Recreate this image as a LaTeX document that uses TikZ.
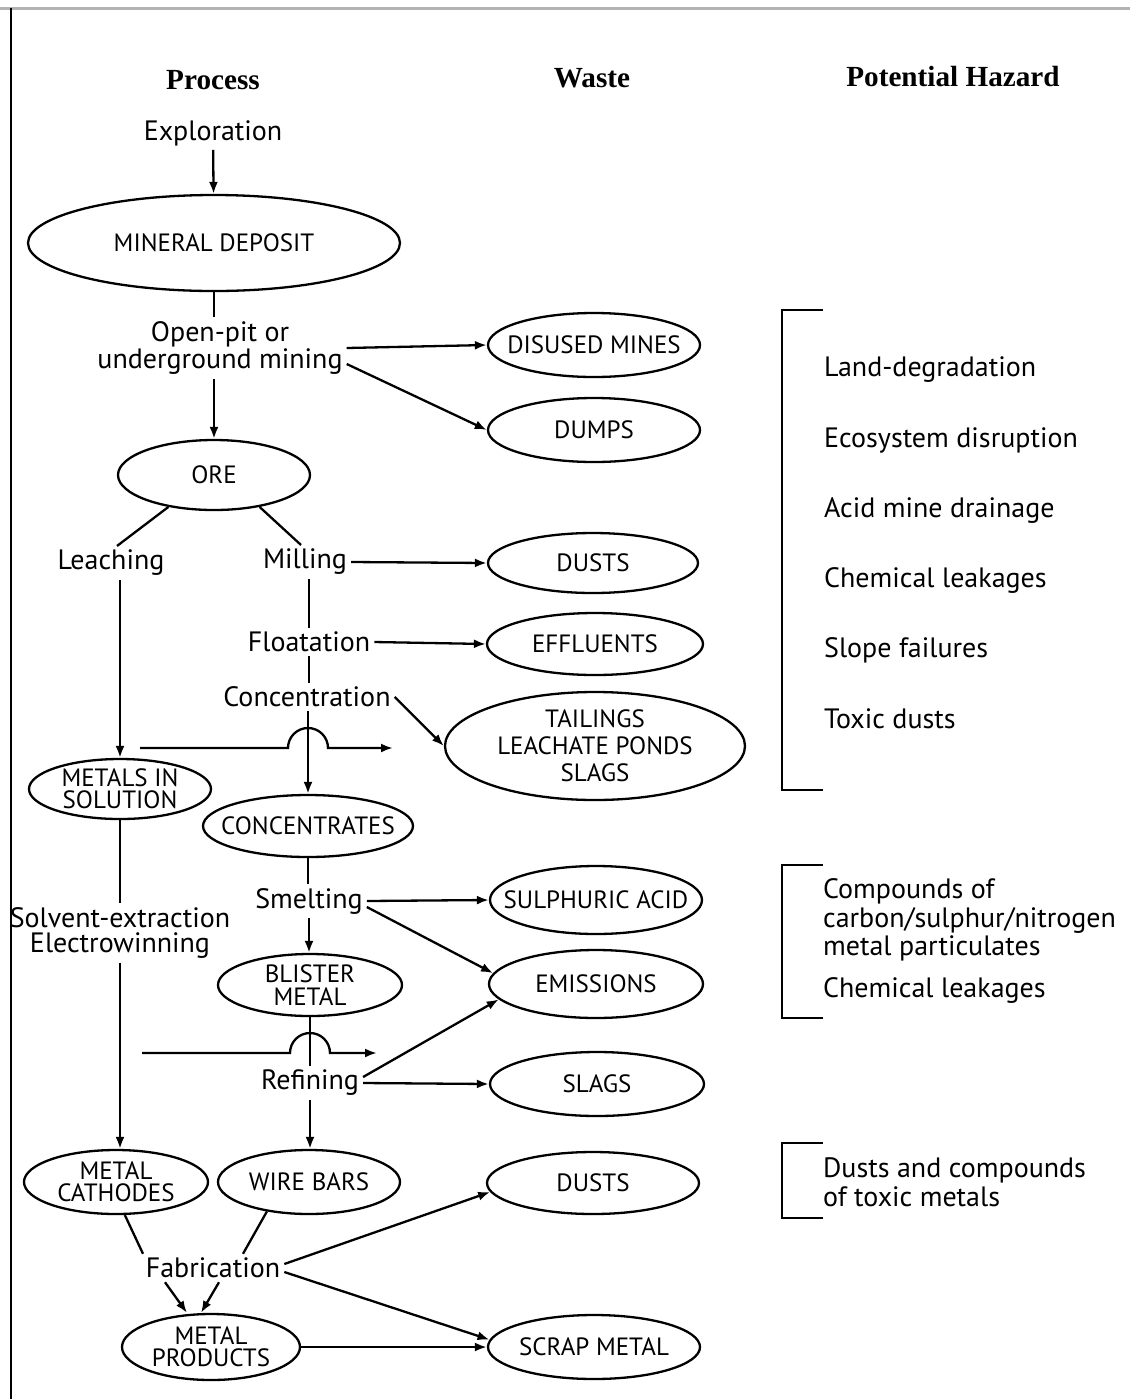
\documentclass[tikz,border=0pt]{standalone}
\usepackage{fontspec}
\setmainfont{PT Sans}
\newfontfamily\headfont{Liberation Serif}
\usetikzlibrary{arrows.meta,shapes.geometric}

\begin{document}
\begin{tikzpicture}[x=0.5pt, y=-0.5pt, line width=1.15pt,
    >={Latex[length=6pt,width=4.5pt]},
    head/.style={font=\headfont\bfseries\fontsize{14.6}{14}\selectfont},
    proc/.style={align=center, inner sep=1.5pt, font=\fontsize{14}{12.5}\selectfont},
    oval/.style={draw, ellipse, inner sep=0pt},
    ovtext/.style={align=center, inner sep=0pt, font=\fontsize{12.5}{11.2}\selectfont},
    hz/.style={anchor=west, align=left, inner sep=0pt, font=\fontsize{14}{14.3}\selectfont}]

\useasboundingbox (0,0) rectangle (1130,1399);
\draw[gray!60, line width=1.5pt] (0,8) -- (1130,8);
\draw[line width=1pt] (11,8) -- (11,1399);

\node[head] (hproc)  at (213,80) {Process};
\node[head] (hwaste) at (592,78) {Waste};
\node[head] (hhaz)   at (953,77) {Potential Hazard};

% process column
\node[proc] (expl) at (213,133) {Exploration};
\node[oval, minimum width=186pt, minimum height=48pt,
      label={[ovtext]center:MINERAL DEPOSIT}] (deposit) at (214,243) {};
\node[proc] (mining) at (220,348) {Open-pit or\\underground mining};
\node[oval, minimum width=96pt, minimum height=35pt,
      label={[ovtext]center:ORE}] (ore) at (214,475) {};
\node[proc] (leach) at (111,563) {Leaching};
\node[proc] (mill)  at (305,562) {Milling};
\node[proc] (float) at (309,642) {Floatation};
\node[proc] (conc)  at (307,697) {Concentration};
\node[oval, minimum width=91pt, minimum height=30pt,
      label={[ovtext]center:METALS IN\\SOLUTION}] (msol) at (120,789) {};
\node[oval, minimum width=105pt, minimum height=31pt,
      label={[ovtext]center:CONCENTRATES}] (concs) at (308,826) {};
\node[proc] (smelt) at (309,901) {Smelting};
\node[proc] (solv)  at (120,933) {Solvent-extraction\\Electrowinning};
\node[oval, minimum width=92pt, minimum height=31pt,
      label={[ovtext]center:BLISTER\\METAL}] (blister) at (310,985) {};
\node[proc] (refin) at (310,1083) {Refining};
\node[oval, minimum width=92pt, minimum height=32pt,
      label={[ovtext]center:METAL\\CATHODES}] (cath) at (116,1182) {};
\node[oval, minimum width=91pt, minimum height=32pt,
      label={[ovtext]center:WIRE BARS}] (wire) at (309,1182) {};
\node[proc] (fab) at (213,1268) {Fabrication};
\node[oval, minimum width=89pt, minimum height=33pt,
      label={[ovtext]center:METAL\\PRODUCTS}] (prod) at (211,1347) {};

% waste column
\node[oval, minimum width=106pt, minimum height=32pt,
      label={[ovtext]center:DISUSED MINES}] (disused) at (594,345) {};
\node[oval, minimum width=106pt, minimum height=32pt,
      label={[ovtext]center:DUMPS}] (dumps) at (594,430) {};
\node[oval, minimum width=105pt, minimum height=30pt,
      label={[ovtext]center:DUSTS}] (dust1) at (593,563) {};
\node[oval, minimum width=108pt, minimum height=31pt,
      label={[ovtext]center:EFFLUENTS}] (effl) at (595,644) {};
\node[oval, minimum width=150pt, minimum height=54pt,
      label={[ovtext, font=\fontsize{12.5}{13.5}\selectfont]center:TAILINGS\\LEACHATE PONDS\\SLAGS}] (tail) at (595,746) {};
\node[oval, minimum width=106pt, minimum height=34pt,
      label={[ovtext]center:SULPHURIC ACID}] (sulph) at (596,900) {};
\node[oval, minimum width=107pt, minimum height=34pt,
      label={[ovtext]center:EMISSIONS}] (emis) at (596,984) {};
\node[oval, minimum width=107pt, minimum height=32pt,
      label={[ovtext]center:SLAGS}] (slag) at (597,1084) {};
\node[oval, minimum width=106pt, minimum height=31pt,
      label={[ovtext]center:DUSTS}] (dust2) at (593,1183) {};
\node[oval, minimum width=106pt, minimum height=32pt,
      label={[ovtext]center:SCRAP METAL}] (scrap) at (594,1347) {};

% hazard column
\node[hz] (hz1) at (823,370) {Land-degradation};
\node[hz] (hz2) at (823,440) {Ecosystem disruption};
\node[hz] (hz3) at (823,511) {Acid mine drainage};
\node[hz] (hz4) at (823,580) {Chemical leakages};
\node[hz] (hz5) at (823,650) {Slope failures};
\node[hz] (hz6) at (823,719) {Toxic dusts};
\node[hz] (hz7) at (822,920) {Compounds of\\carbon/sulphur/nitrogen\\metal particulates};
\node[hz] (hz8) at (822,990) {Chemical leakages};
\node[hz] (hz9) at (822,1182) {Dusts and compounds\\of toxic metals};

\draw (823,310) -- (782,310) -- (782,790) -- (823,790);
\draw (823,865) -- (782,865) -- (782,1018) -- (823,1018);
\draw (823,1143) -- (782,1143) -- (782,1218) -- (823,1218);

% connectors
\draw[->] (expl) -- (deposit);
\draw (deposit) -- (deposit |- mining.north);
\draw[->] (ore |- mining.south) -- (ore);
\draw[->] (mining.east) -- (disused.west);
\draw[->] ([yshift=-8pt]mining.east) -- (dumps.west);
\draw (ore.215) -- ([xshift=3pt]leach.north);
\draw (ore.325) -- ([xshift=-2pt]mill.north);
\draw[->] (mill.east) -- (dust1.west);
\draw (mill.south -| float) -- (float.north);
\draw[->] (float.east) -- (effl.west);
\draw (float.south) -- (float.south |- conc.north);
\draw[->] (conc.east) -- (tail.west);
\draw[->] (concs |- conc.south) -- (concs.north);

\coordinate (jumpA) at (140,748);
\coordinate (jumpAend) at (393,748);
\draw[->] (jumpA) -- ([xshift=-10pt]jumpA -| concs)
    arc[start angle=180, end angle=0, radius=10pt] -- (jumpAend);

\draw[->] (msol |- leach.south) -- (msol.north);
\draw (msol.south) -- (msol.south |- solv.north);
\draw[->] (solv.south -| msol) -- (cath.north -| msol);

\draw (concs.south) -- (concs.south |- smelt.north);
\draw[->] (smelt.east) -- (sulph.west);
\draw[->] ([yshift=-3pt]smelt.east) -- (emis.174);
\draw[->] (smelt.south) -- (smelt.south |- blister.north);
\draw (blister.south) -- (blister.south |- refin.north);

\coordinate (jumpB) at (142,1053);
\coordinate (jumpBend) at (377,1053);
\draw[->] (jumpB) -- ([xshift=-10pt]jumpB -| blister)
    arc[start angle=180, end angle=0, radius=10pt] -- (jumpBend);

\draw[->] ([yshift=3pt]refin.east) -- (emis.189);
\draw[->] (refin.east) -- (slag.west);
\draw[->] (refin.south) -- (refin.south |- wire.north);

\draw (cath.285) -- ([xshift=-35pt]fab.north);
\draw (wire.215) -- ([xshift=15pt]fab.north);
\draw[->] ([xshift=-24pt]fab.south) -- ([xshift=-12pt]prod.north);
\draw[->] ([xshift=3pt]fab.south) -- ([xshift=-5pt]prod.north);
\draw[->] ([yshift=2pt]fab.east) -- (dust2.185);
\draw[->] ([yshift=-2pt]fab.east) -- (scrap.176);
\draw[->] (prod.east) -- (scrap.west);
\end{tikzpicture}
\end{document}
